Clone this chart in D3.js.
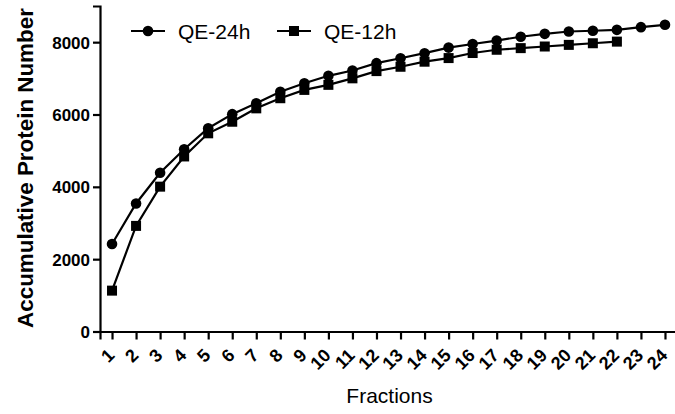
<!DOCTYPE html>
<html>
<head>
<meta charset="utf-8">
<script src="https://cdn.jsdelivr.net/npm/d3@7"></script>
<style>
	body { margin: 0; background: #fff; }
	svg text { font-family: "Liberation Sans", Arial, sans-serif; fill: #000; }
	.tick-label { font-weight: bold; }
</style>
</head>
<body>
<div id="chart-area"></div>
<script>

// Chart data
var fractions = d3.range(1, 25);
var qe24 = [2420, 3540, 4390, 5040, 5620, 6010, 6310, 6630, 6865, 7070,
	7215, 7420, 7555, 7695, 7850, 7950, 8045, 8150, 8230, 8295,
	8315, 8340, 8415, 8480];
var qe12 = [1130, 2920, 4005, 4840, 5480, 5800, 6170, 6450, 6680, 6820,
	7000, 7200, 7320, 7460, 7560, 7700, 7790, 7835, 7880, 7925,
	7970, 8015];
var yTicks = [0, 2000, 4000, 6000, 8000];
var seriesNames = ["QE-24h", "QE-12h"];

var width = 675,
	height = 414;

var margin = {top: 6, right: 0, bottom: 83, left: 100};

var svg = d3.select("#chart-area").append("svg")
	.attr("width", width)
	.attr("height", height);

var x = d3.scaleLinear()
	.domain([0.5, 24.5])
	.range([margin.left, 677]);

var y = d3.scaleLinear()
	.domain([0, 9000])
	.range([331.5, margin.top]);

// axes
var xAxis = d3.axisBottom(x)
	.tickValues(fractions)
	.tickSize(8)
	.tickFormat(d3.format("d"));

var yAxis = d3.axisLeft(y)
	.tickValues(yTicks)
	.tickSize(7)
	.tickFormat(d3.format("d"));

var xAxisGroup = svg.append("g")
	.attr("transform", "translate(0," + y(0) + ")")
	.call(xAxis);

xAxisGroup.selectAll("text")
	.attr("class", "tick-label")
	.style("font-size", "18px")
	.attr("text-anchor", "end")
	.attr("dy", null)
	.attr("y", null)
	.attr("transform", "translate(3,25) rotate(-45)");

var yAxisGroup = svg.append("g")
	.attr("transform", "translate(" + margin.left + ",0)")
	.call(yAxis);

yAxisGroup.selectAll("text")
	.attr("class", "tick-label")
	.style("font-size", "17px")
	.attr("x", -10)
	.attr("dy", "0.36em");

svg.selectAll(".domain, .tick line")
	.attr("stroke", "#000")
	.attr("stroke-width", 2.2);

// axis labels
svg.append("text")
	.attr("transform", "translate(33,168) rotate(-90)")
	.attr("text-anchor", "middle")
	.style("font-size", "22.4px")
	.style("font-weight", "bold")
	.text("Accumulative Protein Number");

svg.append("text")
	.attr("x", 389.5)
	.attr("y", 403)
	.attr("text-anchor", "middle")
	.style("font-size", "21px")
	.text("Fractions");

// lines
var line = d3.line()
	.x(function(d, i) { return x(fractions[i]); })
	.y(function(d) { return y(d); });

svg.append("path")
	.datum(qe24)
	.attr("d", line)
	.attr("fill", "none")
	.attr("stroke", "#000")
	.attr("stroke-width", 2.2);

svg.append("path")
	.datum(qe12)
	.attr("d", line)
	.attr("fill", "none")
	.attr("stroke", "#000")
	.attr("stroke-width", 2.2);

// markers
svg.selectAll(".dot24")
	.data(qe24)
	.enter()
	.append("circle")
	.attr("class", "dot24")
	.attr("cx", function(d, i) { return x(fractions[i]); })
	.attr("cy", function(d) { return y(d); })
	.attr("r", 5.3)
	.attr("fill", "#000");

svg.selectAll(".sq12")
	.data(qe12)
	.enter()
	.append("rect")
	.attr("class", "sq12")
	.attr("x", function(d, i) { return x(fractions[i]) - 5; })
	.attr("y", function(d) { return y(d) - 5; })
	.attr("width", 10)
	.attr("height", 10)
	.attr("fill", "#000");

// legend
var legendX = [131, 277];
var legendY = 31;

seriesNames.forEach(function(name, i) {
	var g = svg.append("g").attr("transform", "translate(" + legendX[i] + "," + legendY + ")");
	g.append("line")
		.attr("x1", 0).attr("x2", 34)
		.attr("stroke", "#000")
		.attr("stroke-width", 2.2);
	if (i === 0) {
		g.append("circle").attr("cx", 17).attr("r", 5.3).attr("fill", "#000");
	} else {
		g.append("rect").attr("x", 12).attr("y", -5).attr("width", 10).attr("height", 10).attr("fill", "#000");
	}
	g.append("text")
		.attr("x", 47)
		.attr("y", 7.5)
		.style("font-size", "21px")
		.text(name);
});

</script>
</body>
</html>
